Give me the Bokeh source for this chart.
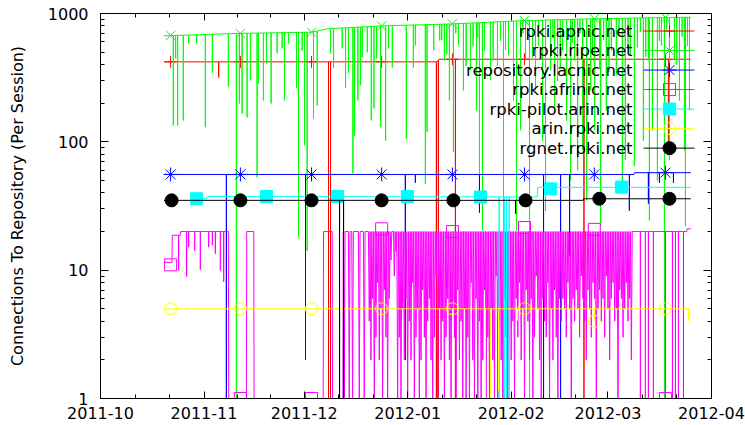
import numpy as np
from datetime import datetime
from bokeh.plotting import figure
from bokeh.models import (Range1d, FixedTicker, LogAxis, DatetimeAxis, PrintfTickFormatter,
                          DatetimeTickFormatter, CustomJSTickFormatter)
from bokeh.core.properties import value
from bokeh.embed import file_html
from bokeh.resources import INLINE

# ---------------- data (days counted from 2011-10-01) ----------------
month_starts = ["2011-10-01", "2011-11-01", "2011-12-01", "2012-01-01",
                "2012-02-01", "2012-03-01", "2012-04-01"]
y_ticks = [1, 10, 100, 1000]
series_names = ["rpki.apnic.net", "rpki.ripe.net", "repository.lacnic.net",
                "rpki.afrinic.net", "rpki-pilot.arin.net", "arin.rpki.net", "rgnet.rpki.net"]

mark_day = [21.0, 41.9, 63.2, 84.2, 105.4, 127.0, 147.9, 169.2]

apnic_base_day = [19.0, 100.8, 101.4, 176.8]
apnic_base_val = [420, 420, 440, 440]
apnic_spike_day = [35.4, 68.3, 68.9, 100.6, 101.2, 106.3, 144.8, 170.1]
apnic_spike_val = [317, 1, 1, 1, 1, 1, 1, 82]
apnic_mark_val = [420, 420, 420, 420, 440, 440, 440, 440]

ripe_base_day = [19.0, 42.0, 63.0, 66.0, 68.0, 84.0, 105.5, 127.0, 148.0, 169.0, 176.8]
ripe_base_val = [670, 700, 715, 740, 760, 800, 830, 880, 910, 930, 935]
ripe_spike_day = [21.8, 22.5, 23.1, 24.8, 26.4, 28.8, 31.4, 33.5, 38.3, 40.7, 41.6, 42.4,
                  43.9, 44.9, 46.9, 47.3, 48.8, 49.7, 51.1, 52.9, 54.4, 55.1, 56.3, 58.7,
                  59.3, 60.4, 61.1, 61.9, 63.8, 64.9, 68.9, 69.8, 72.4, 73.4, 74.3, 75.6,
                  76.1, 77.1, 77.9, 78.4, 79.9, 81.1, 81.9, 82.7, 83.9, 85.4, 86.3, 87.4,
                  91.6, 93.7, 94.3, 97.3, 97.8, 99.8, 101.6,
                  103.0, 104.5, 105.7, 107.2, 108.7, 110.8, 112.6, 113.5, 114.4, 115.0,
                  116.8, 118.9, 120.7, 122.2, 123.7, 124.6, 125.8, 127.3, 128.5, 130.3,
                  131.2, 132.4, 133.3, 134.8, 136.0, 136.9, 138.4, 139.6, 140.8, 142.0,
                  142.9, 144.4, 145.6, 146.8, 148.0, 149.5, 149.8, 151.5, 153.0, 154.5,
                  156.3, 157.2, 158.7, 159.9, 160.8, 162.6, 164.1, 164.4, 165.3, 166.8,
                  168.0, 168.9, 170.4, 171.9, 173.4, 174.9, 175.2, 176.4,
                  102.2, 103.7, 106.4, 109.5, 111.6, 113.0, 117.6, 119.8, 121.3, 126.5,
                  129.4, 135.5, 137.7, 141.3, 143.6, 147.4, 150.7, 152.3, 155.3, 158.0,
                  161.7, 163.3, 167.4, 169.6, 172.6, 174.2, 175.8]
ripe_spike_val = [134, 447, 134, 147, 585, 585, 130, 347, 270, 1, 199, 166,
                  155, 301, 53, 285, 210, 408, 199, 489, 535, 210, 585, 265,
                  18, 516, 94, 14.2, 152, 192, 489, 380, 535, 265, 347, 57,
                  112, 210, 275, 455, 498, 147, 182, 447, 130, 102, 535, 380,
                  106, 380, 564, 47, 120, 516, 617,
                  432, 210, 83, 564, 252, 361, 176, 55, 20.4, 510,
                  302, 393, 1, 470, 210, 20.4, 123, 432, 1, 252,
                  564, 102, 29, 361, 176, 297, 516, 147, 50, 432,
                  60, 86, 35, 252, 123, 372, 22, 176, 516, 330,
                  39.7, 72, 470, 65, 545, 102, 432, 24.4, 123, 50,
                  564, 1, 72, 432, 210, 86, 22, 176,
                  620, 480, 700, 390, 560, 650, 430, 610, 520, 700,
                  450, 640, 380, 590, 700, 480, 620, 350, 680, 540,
                  720, 460, 610, 750, 400, 660, 560]
ripe_mark_val = [675, 700, 715, 800, 830, 880, 912, 932]

lacnic_base_day = [19.0, 159.8, 160.0, 176.8]
lacnic_base_val = [55.7, 55.7, 57.5, 57.5]
lacnic_spike_day = [37.7, 61.4, 91.3, 94.3, 113.5, 132.7, 137.8, 140.5, 158.4, 164.1, 167.4, 171.6]
lacnic_spike_val = [1, 2.0, 2.0, 48, 28, 1, 1, 13, 29, 33, 48, 48]
lacnic_mark_val = [55.7, 55.7, 55.7, 55.7, 55.7, 55.7, 55.7, 57.5]

afrinic_base_day = [19.0, 21.4, 21.5, 23.9, 24.0, 38.3, 38.4, 43.7, 43.8, 45.9, 46.0,
                    66.7, 66.8, 69.4, 69.5, 72.6, 72.7, 175.6, 175.7, 176.8]
afrinic_base_val = [11.5, 11.5, 18.7, 18.7, 20, 20, 1, 1, 20, 20, 1,
                    1, 20, 20, 1, 1, 20, 20, 21, 21]
afrinic_spike_day = [23.4, 25.8, 26.4, 28.2, 29.9, 32.4, 33.5, 34.4, 35.9, 36.9,
                     161.7, 163.2, 164.1, 165.6, 169.2, 171.3, 172.2, 173.1, 174.6]
afrinic_spike_val = [10, 8.9, 15.1, 14.2, 10.1, 15.1, 15.6, 13.4, 9.95, 8.1,
                     1, 1, 1, 1, 1, 1, 1, 1, 1]
afrinic_dense_start = 73.0
afrinic_dense_step = 0.5
afrinic_dense_val = [1, 20, 20, 1, 20, 1, 20, 20, 20, 1, 20, 20, 1, 20, 20,
                     4, 2, 6, 1, 3, 8, 2, 5, 1, 7, 3, 1, 6,
                     12, 20, 9, 14, 1,
                     3, 1, 5, 2, 6, 1, 4, 2, 8, 1, 3, 5, 1, 2, 7, 3, 1, 4, 6, 2,
                     1, 3, 9, 1, 5, 2, 4, 1, 3, 6, 2, 1, 5, 3, 1, 7, 2, 4,
                     1, 5, 1, 3, 1, 8, 2, 1, 6, 1, 4, 1, 2, 7, 1, 3, 1, 5, 2, 1,
                     9, 1, 4, 2, 1, 6, 3, 1, 5, 2,
                     4, 1, 6, 3, 8, 2, 5, 1, 7, 4, 2, 6, 1, 3, 9, 5, 2, 1, 6, 4,
                     3, 8, 1, 5, 2, 7, 3, 1, 6, 4,
                     6, 5, 3, 8, 5, 1, 6, 4, 7, 5, 3, 9, 6, 4, 2, 7, 5, 3, 8, 6,
                     1, 5, 7, 4, 6, 3, 9, 5, 2, 6, 8, 4, 5, 1, 7, 6, 3, 5, 8, 4,
                     6, 2, 20]
afrinic_mark_val = [11, 1, 1, 21, 20, 21.5, 20.8, 1]

pilot_base_day = [27.0, 31.9, 32.0, 130.8, 130.9, 176.8]
pilot_base_val = [36.0, 36.0, 37.5, 37.2, 44.2, 44.2]
pilot_spike_day = [119.4, 120.9, 121.6, 122.4]
pilot_spike_val = [1, 1, 1, 1]
pilot_mark_day = [28.75, 49.7, 71.0, 91.9, 113.8, 134.8, 156.0]
pilot_mark_val = [36.0, 37.5, 37.5, 37.5, 37.2, 43.0, 44.4]

arin_base_day = [19.0, 176.8]
arin_base_val = [5.0, 5.0]
arin_spike_day = [115.3, 116.8, 119.2, 124.9, 133.9, 147.9, 176.1]
arin_spike_val = [1, 1, 1.15, 4.05, 4.05, 4.0, 4.05]
arin_mark_val = [5, 5, 5, 5, 5, 5, 4.0, 5]

rgnet_base_day = [19.0, 144.6, 144.7, 176.8]
rgnet_base_val = [35.0, 35.0, 36.0, 36.0]
rgnet_spike_day = [71.6, 72.8, 124.3]
rgnet_spike_val = [1, 1, 27.6]
rgnet_mark_day = [21.3, 41.9, 63.2, 84.2, 105.7, 127.3, 149.4, 170.4]
rgnet_mark_val = [35, 35, 35, 35, 35, 35, 36, 36]

# ---------------- helpers ----------------
T0 = np.datetime64("2011-10-01T00:00:00", "ms")


def to_dt(days):
    return T0 + (np.asarray(days, dtype=float) * 86400000.0).astype("int64").astype("timedelta64[ms]")


def build(base_d, base_v, spk_d, spk_v, half_width=None):
    """Line path: baseline vertices plus a drop at every spike (vertical, or a
    narrow V of the given half width in days)."""
    pts = [(float(d), 0, float(v)) for d, v in zip(base_d, base_v)]
    if len(spk_d):
        bd = np.asarray(base_d, float)
        bv = np.asarray(base_v, float)
        for i, (d, v) in enumerate(zip(spk_d, spk_v)):
            d = float(d)
            hw = 0.0 if half_width is None else half_width[i]
            t0, t1 = np.interp([d - hw, d + hw], bd, bv)
            if v >= min(t0, t1):
                continue
            pts += [(d - hw, 1, t0), (d, 2, float(v)), (d + hw, 3, t1)]
    pts.sort(key=lambda q: (q[0], q[1]))
    return to_dt([q[0] for q in pts]), [q[2] for q in pts]


FONT = "DejaVu Sans"
FS = "16px"
KEY_FS = "16.5px"

p = figure(width=745, height=425, x_axis_type="datetime", y_axis_type="log",
           x_range=Range1d(datetime(2011, 10, 1), datetime(2012, 4, 1)),
           y_range=Range1d(1, 1000), output_backend="svg", toolbar_location=None,
           min_border_left=100, min_border_right=34, min_border_top=13, min_border_bottom=27)
p.grid.visible = False
p.outline_line_color = "black"
p.outline_line_alpha = 1
p.background_fill_color = "white"
p.border_fill_color = "white"

xt = np.array(month_starts, dtype="datetime64[ms]").astype("int64")
xminor = []
for a, b in zip(xt[:-1], xt[1:]):
    xminor += [a + (b - a) / 3.0, a + 2.0 * (b - a) / 3.0]
xticker = FixedTicker(ticks=[float(v) for v in xt], minor_ticks=[float(v) for v in xminor])
yminor = [m * d for d in (1, 10, 100) for m in range(2, 10)]
yticker = FixedTicker(ticks=y_ticks, minor_ticks=yminor)
fmt = "%Y-%m"
xfmt = DatetimeTickFormatter(milliseconds=fmt, seconds=fmt, minsec=fmt, minutes=fmt, hourmin=fmt,
                             hours=fmt, days=fmt, months=fmt, years=fmt)

xa = p.xaxis[0]
xa.ticker = xticker
xa.formatter = xfmt
xa.major_tick_in = 7
xa.major_tick_out = 0
xa.minor_tick_in = 4
xa.minor_tick_out = 0
xa.major_label_standoff = 8
xa.major_label_text_font = FONT
xa.major_label_text_font_size = FS
xa.major_label_text_color = "black"
xa.axis_line_color = "black"

ya = p.yaxis[0]
ya.ticker = yticker
ya.formatter = PrintfTickFormatter(format="%d")
ya.major_tick_in = 8
ya.major_tick_out = 0
ya.minor_tick_in = 4
ya.minor_tick_out = 0
ya.major_label_standoff = 12
ya.major_label_text_font = FONT
ya.major_label_text_font_size = FS
ya.major_label_text_color = "black"
ya.axis_line_color = "black"
ya.axis_label = "Connections To Repository (Per Session)"
ya.axis_label_text_font = FONT
ya.axis_label_text_font_size = FS
ya.axis_label_text_font_style = "normal"
ya.axis_label_text_color = "black"
ya.axis_label_standoff = 18

blank = CustomJSTickFormatter(code="return ''")
ra = LogAxis(ticker=yticker, formatter=blank, major_label_text_font_size="0px",
             major_tick_in=8, major_tick_out=0, minor_tick_in=4, minor_tick_out=0,
             major_label_standoff=0, axis_line_color="black")
p.add_layout(ra, "right")
ta = DatetimeAxis(ticker=xticker, formatter=blank, major_label_text_font_size="0px",
                  major_tick_in=7, major_tick_out=0, minor_tick_in=4, minor_tick_out=0,
                  major_label_standoff=0, axis_line_color="black")
p.add_layout(ta, "above")

afr_dense_day = afrinic_dense_start + afrinic_dense_step * np.arange(len(afrinic_dense_val))
afr_all_day = list(afrinic_spike_day) + list(afr_dense_day)
afr_all_val = list(afrinic_spike_val) + list(afrinic_dense_val)
afr_half = [0.0] * len(afrinic_spike_day) + [afrinic_dense_step / 2.0] * len(afr_dense_day)

specs = [
    ("#ff0000", "cross", 12, False, apnic_base_day, apnic_base_val, apnic_spike_day, apnic_spike_val, None, mark_day, apnic_mark_val),
    ("#00ff00", "x", 13, False, ripe_base_day, ripe_base_val, ripe_spike_day, ripe_spike_val, None, mark_day, ripe_mark_val),
    ("#0000ff", "asterisk", 14, False, lacnic_base_day, lacnic_base_val, lacnic_spike_day, lacnic_spike_val, None, mark_day, lacnic_mark_val),
    ("#ff00ff", "square", 12, False, afrinic_base_day, afrinic_base_val, afr_all_day, afr_all_val, afr_half,
     mark_day, afrinic_mark_val),
    ("#00ffff", "square", 12, True, pilot_base_day, pilot_base_val, pilot_spike_day, pilot_spike_val, None, pilot_mark_day, pilot_mark_val),
    ("#ffff00", "circle", 12, False, arin_base_day, arin_base_val, arin_spike_day, arin_spike_val, None, mark_day, arin_mark_val),
    ("#000000", "circle", 13, True, rgnet_base_day, rgnet_base_val, rgnet_spike_day, rgnet_spike_val, None, rgnet_mark_day, rgnet_mark_val),
]

for color, marker, size, filled, bd, bv, sd, sv, hw, md, mv in specs:
    xs, ys = build(bd, bv, sd, sv, hw)
    p.line(xs, ys, line_color=color, line_width=1)
    p.scatter(to_dt(md), mv, marker=marker, size=size, line_color=color, line_width=1,
              fill_color=color if filled else None)

# ---------------- key (top right, gnuplot style) ----------------
TOTAL_DAYS = 183.0
key_text_f = 0.8707
key_line_f0, key_line_f1 = 0.8887, 0.9722
key_mark_f = 0.9313
key_row0_f, key_row_step_f = 0.0455, 0.0507


def fy(f_top):
    return 10 ** (3.0 * (1.0 - f_top))


for i, (name, spec) in enumerate(zip(series_names, specs)):
    color, marker, size, filled = spec[0], spec[1], spec[2], spec[3]
    yy = fy(key_row0_f + key_row_step_f * i)
    p.line(to_dt([key_line_f0 * TOTAL_DAYS, key_line_f1 * TOTAL_DAYS]), [yy, yy], line_color=color, line_width=1)
    p.scatter(to_dt([key_mark_f * TOTAL_DAYS]), [yy], marker=marker, size=size, line_color=color,
              line_width=1, fill_color=color if filled else None)
    p.text(to_dt([key_text_f * TOTAL_DAYS]), [yy], text=[name], text_align="right", text_baseline="middle",
           text_font=value(FONT), text_font_size=KEY_FS, text_color="black")

open("out.html", "w").write(file_html(p, INLINE))
